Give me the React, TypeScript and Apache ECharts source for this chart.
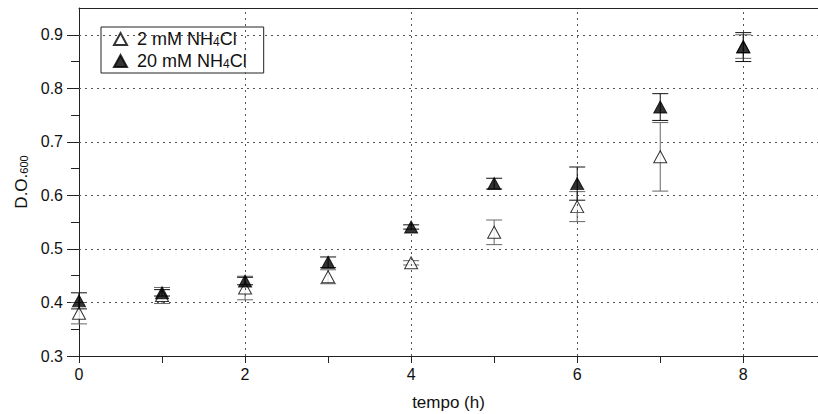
import { useEffect, useRef } from "react";
import * as echarts from "echarts";

// Growth time points (h)
const hours = [0, 1, 2, 3, 4, 5, 6, 7, 8];

// OD600 means and error (±) for each ammonium chloride level
const lowNameSeries = "2 mM NH4Cl";
const lowMean = [0.38, 0.413, 0.427, 0.448, 0.474, 0.531, 0.579, 0.672, 0.878];
const lowErr = [0.02, 0.015, 0.022, 0.013, 0.004, 0.023, 0.028, 0.064, 0.022];

const highNameSeries = "20 mM NH4Cl";
const highMean = [0.403, 0.418, 0.44, 0.475, 0.541, 0.622, 0.622, 0.765, 0.877];
const highErr = [0.015, 0.006, 0.007, 0.01, 0.004, 0.01, 0.031, 0.025, 0.027];

// Axis ticks, labels and grid lines
const xTickValues = [0, 1, 2, 3, 4, 5, 6, 7, 8];
const xLabelValues = [0, 2, 4, 6, 8];
const xGridValues = [2, 4, 6, 8];
const yMajorValues = [0.3, 0.4, 0.5, 0.6, 0.7, 0.8, 0.9];
const yMinorValues = [0.35, 0.45, 0.55, 0.65, 0.75, 0.85];
const yGridValues = [0.4, 0.5, 0.6, 0.7, 0.8, 0.9];

const X_MIN = 0;
const X_MAX = 8.9;
const Y_MIN = 0.3;
const Y_MAX = 0.95;

const FONT = "'Liberation Sans', Arial, Helvetica, sans-serif";
const INK = "#222";
const TEXT = "#111";

function errorBars(means: number[], errs: number[], color: string, z: number) {
  return {
    type: "custom",
    silent: true,
    z,
    data: hours.map((t, i) => [t, means[i] - errs[i], means[i] + errs[i]]),
    encode: { x: 0, y: [1, 2] },
    renderItem: (_params: any, api: any) => {
      const x = api.value(0);
      const top = api.coord([x, api.value(2)]);
      const bot = api.coord([x, api.value(1)]);
      const half = 8;
      const style = { stroke: color, lineWidth: 1 };
      return {
        type: "group",
        children: [
          { type: "line", shape: { x1: top[0], y1: top[1], x2: bot[0], y2: bot[1] }, style },
          { type: "line", shape: { x1: top[0] - half, y1: top[1], x2: top[0] + half, y2: top[1] }, style },
          { type: "line", shape: { x1: bot[0] - half, y1: bot[1], x2: bot[0] + half, y2: bot[1] }, style },
        ],
      };
    },
  };
}

const legendRich = {
  n: { fontSize: 18, lineHeight: 18, fontFamily: FONT, color: TEXT, verticalAlign: "middle" },
  sub: { fontSize: 12, lineHeight: 8, fontFamily: FONT, color: TEXT, verticalAlign: "bottom" },
};

export default function App() {
  const ref = useRef<HTMLDivElement>(null);

  useEffect(() => {
    if (!ref.current) return;
    const chart = echarts.init(ref.current, undefined, { renderer: "svg" });

    const dotted = { color: "#555", width: 1, type: [2, 4] as number[] };

    chart.setOption({
      animation: false,
      backgroundColor: "#fff",
      textStyle: { fontFamily: FONT },
      grid: { left: 79, top: 8, right: 0, bottom: 58, outerBoundsMode: "none" },
      legend: {
        left: 101,
        top: 27,
        orient: "vertical",
        padding: [3, 17, 3, 12],
        itemGap: 4,
        itemWidth: 13,
        itemHeight: 12,
        borderColor: INK,
        borderWidth: 1,
        borderRadius: 0,
        data: [lowNameSeries, highNameSeries],
        formatter: (name: string) =>
          name === lowNameSeries ? "{n|2 mM NH}{sub|4}{n|Cl}" : "{n|20 mM NH}{sub|4}{n|Cl}",
        textStyle: { fontSize: 18, lineHeight: 18, padding: [0, 0, 0, 5], rich: legendRich },
      },
      xAxis: [
        {
          type: "value",
          min: X_MIN,
          max: X_MAX,
          name: "tempo (h)",
          nameLocation: "middle",
          nameGap: 38,
          nameTextStyle: { fontSize: 17, color: TEXT, fontFamily: FONT },
          axisLine: { show: true, onZero: false, lineStyle: { color: INK, width: 1 } },
          axisTick: { show: true, inside: false, length: 7, customValues: xTickValues, lineStyle: { color: INK } },
          axisLabel: { show: true, customValues: xLabelValues, margin: 10, fontSize: 16, color: TEXT, fontFamily: FONT },
          splitLine: { show: false },
        },
        {
          type: "value",
          position: "top",
          min: X_MIN,
          max: X_MAX,
          axisLine: { show: true, onZero: false, lineStyle: { color: INK, width: 1 } },
          axisTick: { show: false },
          axisLabel: { show: false },
          splitLine: { show: false },
        },
      ],
      yAxis: [
        {
          type: "value",
          min: Y_MIN,
          max: Y_MAX,
          name: "D.O.{sub|600}",
          nameLocation: "middle",
          nameRotate: 90,
          nameGap: 49,
          nameTextStyle: {
            fontSize: 17,
            color: TEXT,
            fontFamily: FONT,
            rich: {
              sub: { fontSize: 11, lineHeight: 8, verticalAlign: "bottom", fontFamily: FONT, color: TEXT },
            },
          },
          axisLine: { show: true, onZero: false, lineStyle: { color: INK, width: 1 } },
          axisTick: { show: true, inside: false, length: 12, customValues: yMajorValues, lineStyle: { color: INK } },
          axisLabel: {
            show: true,
            customValues: yMajorValues,
            margin: 16,
            fontSize: 16,
            color: TEXT,
            fontFamily: FONT,
            formatter: (v: number) => v.toFixed(1),
          },
          splitLine: { show: false },
        },
        {
          type: "value",
          min: Y_MIN,
          max: Y_MAX,
          position: "left",
          axisLine: { show: false },
          axisTick: { show: true, inside: false, length: 8, customValues: yMinorValues, lineStyle: { color: INK } },
          axisLabel: { show: false },
          splitLine: { show: false },
        },
      ],
      series: [
        {
          type: "line",
          data: [],
          silent: true,
          z: 1,
          markLine: {
            silent: true,
            symbol: "none",
            label: { show: false },
            lineStyle: dotted,
            data: [
              ...yGridValues.map((v) => ({ yAxis: v })),
              ...xGridValues.map((v) => ({ xAxis: v })),
            ],
          },
        },
        errorBars(lowMean, lowErr, "#666", 3),
        {
          name: lowNameSeries,
          type: "scatter",
          z: 4,
          symbol: "triangle",
          symbolSize: [13, 12],
          itemStyle: { color: "#fff", borderColor: "#000", borderWidth: 1 },
          data: hours.map((t, i) => [t, lowMean[i]]),
        },
        errorBars(highMean, highErr, "#111", 5),
        {
          name: highNameSeries,
          type: "scatter",
          z: 6,
          symbol: "triangle",
          symbolSize: [13, 12],
          itemStyle: { color: "#000", borderColor: "#000", borderWidth: 1 },
          data: hours.map((t, i) => [t, highMean[i]]),
        },
      ],
    });

    return () => chart.dispose();
  }, []);

  return (
    <div
      ref={ref}
      style={{ position: "absolute", left: 0, top: 0, width: 818, height: 414, background: "#fff" }}
    />
  );
}
